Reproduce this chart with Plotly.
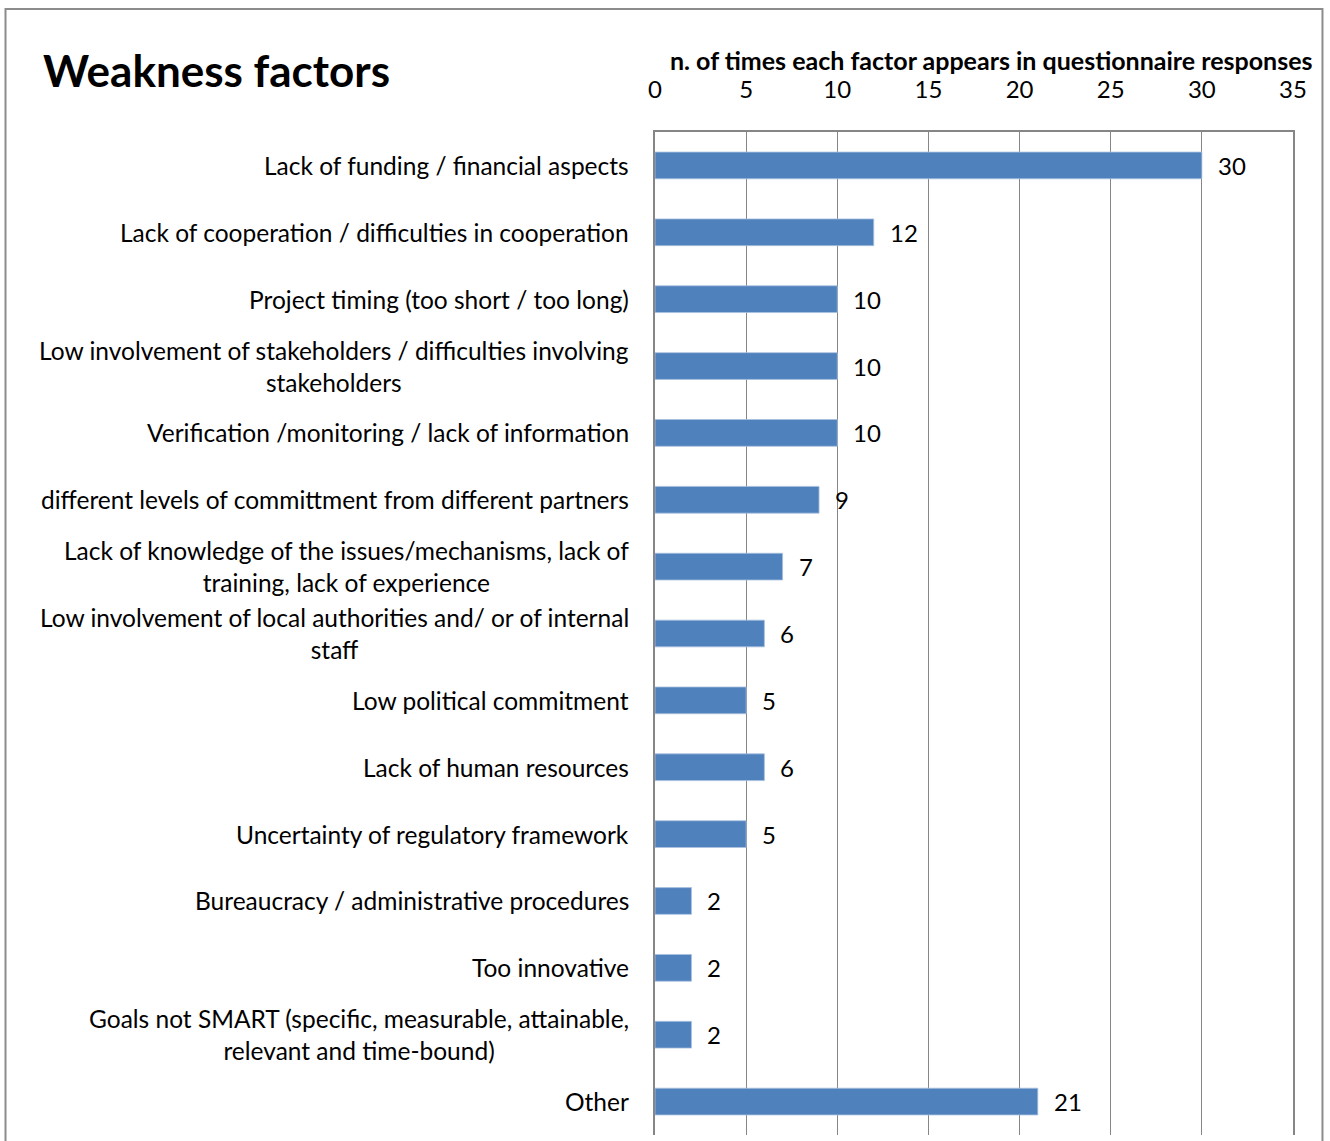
import plotly.graph_objects as go

categories = [
    "Lack of funding / financial aspects",
    "Lack of cooperation / difficulties in cooperation",
    "Project timing (too short / too long)",
    "Low involvement of stakeholders / difficulties involving<br>stakeholders",
    "Verification /monitoring / lack of information",
    "different levels of committment from different partners",
    "Lack of knowledge of the issues/mechanisms, lack of<br>training, lack of experience",
    "Low involvement of local authorities and/ or of internal<br>staff",
    "Low political commitment",
    "Lack of human resources",
    "Uncertainty of regulatory framework",
    "Bureaucracy / administrative procedures",
    "Too innovative",
    "Goals not SMART (specific, measurable, attainable,<br>relevant and time-bound)",
    "Other",
]
values = [30, 12, 10, 10, 10, 9, 7, 6, 5, 6, 5, 2, 2, 2, 21]
tick_values = [0, 5, 10, 15, 20, 25, 30, 35]

title_text = "Weakness factors"
axis_title = "n. of times each factor appears in questionnaire responses"

W, H = 1330, 1141
L, R, T, B = 655, 1293.5, 132, 1135.5
FONT = "Lato, 'Open Sans', sans-serif"
BAR = "#4F81BD"
GRID = "#868686"


def px(xp):
    return (xp - L) / (R - L)


def py(yp):
    return (B - yp) / (B - T)


fig = go.Figure()
fig.add_trace(go.Bar(
    x=values, y=list(range(len(categories))), orientation="h",
    marker=dict(color=BAR, line=dict(color="#a9c0de", width=0.8)),
    width=0.4, hoverinfo="x",
))

annotations = []
for i, (c, v) in enumerate(zip(categories, values)):
    annotations.append(dict(
        x=0, y=i, xref="x", yref="y", text=c, showarrow=False,
        xanchor="right", yanchor="middle", align="center", xshift=-24,
        font=dict(family=FONT, size=24.5, color="#000000"),
    ))
    annotations.append(dict(
        x=v, y=i, xref="x", yref="y", text=str(v), showarrow=False,
        xanchor="left", yanchor="middle", xshift=14,
        font=dict(family=FONT, size=24, color="#000000"),
    ))

annotations.append(dict(
    x=px(41), y=py(70), xref="paper", yref="paper", text="<b>" + title_text + "</b>",
    showarrow=False, xanchor="left", yanchor="middle",
    font=dict(family=FONT, size=44, color="#000000"),
))
annotations.append(dict(
    x=px(992), y=py(60), xref="paper", yref="paper", text="<b>" + axis_title + "</b>",
    showarrow=False, xanchor="center", yanchor="middle",
    font=dict(family=FONT, size=25, color="#000000"),
))

shapes = [dict(
    type="rect", xref="paper", yref="paper",
    x0=px(5), x1=px(1323), y0=py(1160), y1=py(9),
    line=dict(color="#8c8c8c", width=2), fillcolor="rgba(0,0,0,0)", layer="below",
)]

fig.update_layout(
    width=W, height=H,
    margin=dict(l=L, r=W - R, t=T, b=H - B, pad=0),
    paper_bgcolor="white", plot_bgcolor="white",
    showlegend=False,
    bargap=0.6,
    annotations=annotations,
    shapes=shapes,
    xaxis=dict(
        side="top", range=[0, 35], tickvals=tick_values,
        showgrid=True, gridcolor=GRID, gridwidth=1.3,
        showline=True, linecolor=GRID, linewidth=1.5,
        ticks="", ticklabelstandoff=23,
        tickfont=dict(family=FONT, size=24, color="#000000"),
        zeroline=False, fixedrange=True,
    ),
    yaxis=dict(
        range=[len(categories) - 0.5, -0.5],
        showticklabels=False, showgrid=False, zeroline=False,
        showline=True, mirror=True, linecolor=GRID, linewidth=2,
        ticks="", fixedrange=True,
    ),
)

fig.write_html("out.html", config={"displayModeBar": False},
               post_script="document.body.style.margin='0';")
